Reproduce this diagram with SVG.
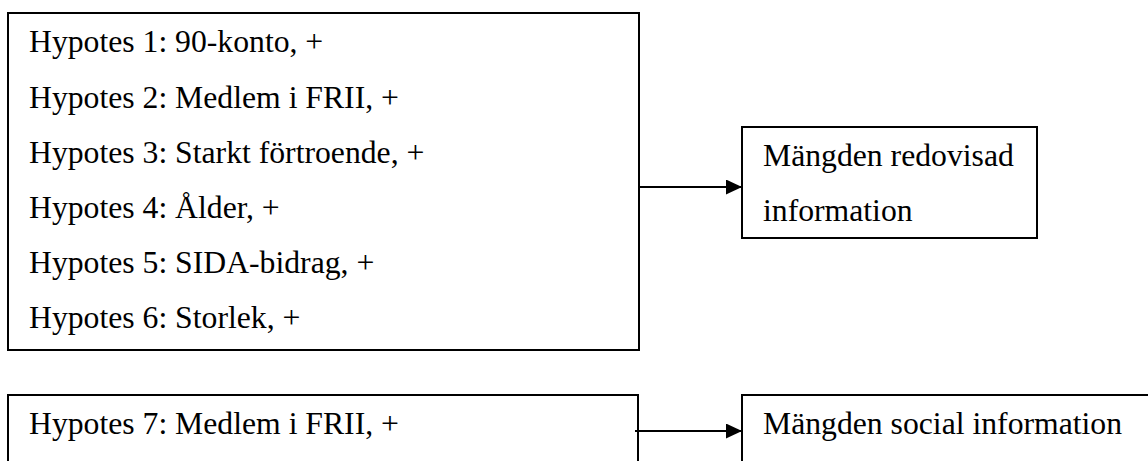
<svg xmlns="http://www.w3.org/2000/svg" width="1148" height="461" viewBox="0 0 1148 461">
  <style>
    .box { fill: #ffffff; stroke: #000000; stroke-width: 2; }
    .t { font-family: "Liberation Serif", "Times New Roman", serif; font-size: 31.7px; fill: #000000; }
    .conn { stroke: #000000; stroke-width: 2; fill: none; }
  </style>
  <defs>
    <marker id="arrow" viewBox="0 0 16 15" refX="16" refY="7.5" markerWidth="16" markerHeight="15" markerUnits="userSpaceOnUse" orient="auto">
      <path d="M0,0 L16,7.5 L0,15 Z" fill="#000000"/>
    </marker>
  </defs>
  <rect width="1148" height="461" fill="#ffffff"/>
  <g id="hypoteser-1-6">
    <rect class="box" x="8" y="13" width="631" height="337"/>
    <text class="t" x="29" y="52">Hypotes 1: 90-konto, +</text>
    <text class="t" x="29" y="107.5">Hypotes 2: Medlem i FRII, +</text>
    <text class="t" x="29" y="163">Hypotes 3: Starkt förtroende, +</text>
    <text class="t" x="29" y="218">Hypotes 4: Ålder, +</text>
    <text class="t" x="29" y="273">Hypotes 5: SIDA-bidrag, +</text>
    <text class="t" x="29" y="328">Hypotes 6: Storlek, +</text>
  </g>
  <g id="hypotes-7">
    <rect class="box" x="8" y="395" width="630" height="100"/>
    <text class="t" x="29" y="434">Hypotes 7: Medlem i FRII, +</text>
  </g>
  <g id="redovisad-information">
    <rect class="box" x="742" y="127" width="295" height="111"/>
    <text class="t" x="763" y="166">Mängden redovisad</text>
    <text class="t" x="763" y="221">information</text>
  </g>
  <g id="social-information">
    <rect class="box" x="742" y="395" width="440" height="100"/>
    <text class="t" x="763" y="434">Mängden social information</text>
  </g>
  <g id="connectors">
    <line class="conn" x1="639" y1="187" x2="742" y2="187" marker-end="url(#arrow)"/>
    <line class="conn" x1="635" y1="431" x2="742" y2="431" marker-end="url(#arrow)"/>
  </g>
</svg>
